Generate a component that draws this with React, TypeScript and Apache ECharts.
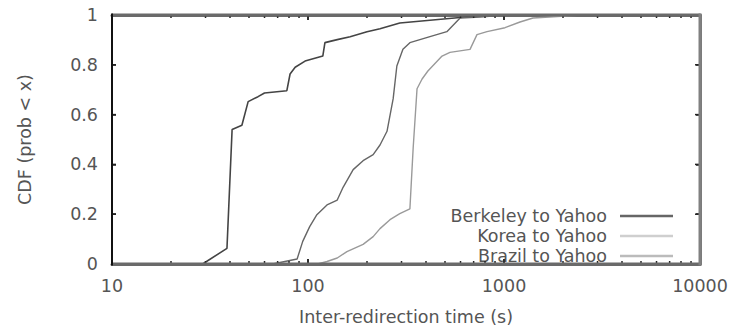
import React, { useEffect, useRef } from "react";
import * as echarts from "echarts";

const berkeleyX = [29, 38.6, 41, 46, 49.5, 55.6, 60, 78, 81, 86, 96.6, 119, 122, 141, 164, 200, 233, 294, 597, 800, 10000];
const berkeleyY = [0, 0.063, 0.54, 0.557, 0.652, 0.672, 0.687, 0.696, 0.763, 0.79, 0.815, 0.835, 0.889, 0.901, 0.913, 0.933, 0.945, 0.968, 0.99, 1, 1];

const koreaX = [66, 88, 94, 102, 111, 125, 141, 151, 170, 191, 215, 233, 253, 272, 284, 305, 331, 419, 511, 597, 755, 1000, 10000];
const koreaY = [0, 0.02, 0.091, 0.15, 0.198, 0.237, 0.257, 0.308, 0.379, 0.415, 0.439, 0.478, 0.533, 0.664, 0.795, 0.862, 0.889, 0.913, 0.933, 0.988, 0.992, 1, 1];

const brazilX = [112, 125, 141, 158, 191, 215, 233, 262, 294, 331, 344, 360, 382, 409, 483, 530, 671, 728, 819, 1012, 1207, 1406, 2500, 10000];
const brazilY = [0, 0.01, 0.024, 0.05, 0.079, 0.11, 0.142, 0.178, 0.202, 0.221, 0.466, 0.704, 0.743, 0.775, 0.835, 0.85, 0.862, 0.921, 0.933, 0.949, 0.972, 0.988, 1, 1];

const seriesNames = ["Berkeley to Yahoo", "Korea to Yahoo", "Brazil to Yahoo"];
const legendColors = ["#666", "#cfcfcf", "#bbb"];
const majorXTicks = [10, 100, 1000, 10000];
const minorXTicks = [20, 30, 40, 50, 60, 70, 80, 90, 200, 300, 400, 500, 600, 700, 800, 900, 2000, 3000, 4000, 5000, 6000, 7000, 8000, 9000];
const yTicks = [0.2, 0.4, 0.6, 0.8];

const zip = (xs: number[], ys: number[]) => xs.map((x, i) => [x, ys[i]]);

const FONT = "DejaVu Sans";
const TEXT = "#555";
const FS = 17.5;

// kind: 0 = minor x tick, 1 = major x tick, 2 = y tick, 3 = frame
const frameData = [
  ...minorXTicks.map((v) => [v, 0, 0]),
  ...majorXTicks.map((v) => [v, 0, 1]),
  ...yTicks.map((v) => [10, v, 2]),
  [10, 0, 3],
];

export default function App() {
  const ref = useRef<HTMLDivElement>(null);
  useEffect(() => {
    if (!ref.current) return;
    const chart = echarts.init(ref.current, null, { renderer: "svg" });
    const tick = { show: true, inside: true, length: 5, lineStyle: { color: "#222", width: 1.5 } };
    chart.setOption({
      animation: false,
      backgroundColor: "#fff",
      grid: { left: 112, right: 36, top: 15, bottom: 63 },
      xAxis: [
        {
          type: "log",
          min: 10,
          max: 10000,
          position: "bottom",
          splitLine: { show: false },
          name: "Inter-redirection time (s)",
          nameLocation: "middle",
          nameGap: 44,
          nameTextStyle: { color: TEXT, fontSize: FS, fontFamily: FONT },
          axisLine: { show: true, onZero: false, lineStyle: { color: "#6a6a6a", width: 3 } },
          axisTick: { ...tick },
          axisLabel: {
            color: TEXT,
            fontSize: FS,
            fontFamily: FONT,
            margin: 13,
            formatter: (v: number) => String(Math.round(v)),
          },
        },
        {
          type: "log",
          min: 10,
          max: 10000,
          position: "top",
          splitLine: { show: false },
          axisLine: { show: true, onZero: false, lineStyle: { color: "#6a6a6a", width: 3 } },
          axisTick: { ...tick },
          axisLabel: { show: false },
        },
      ],
      yAxis: [
        {
          type: "value",
          min: 0,
          max: 1,
          interval: 0.2,
          position: "left",
          splitLine: { show: false },
          name: "CDF (prob < x)",
          nameLocation: "middle",
          nameGap: 78,
          nameRotate: 90,
          nameTextStyle: { color: TEXT, fontSize: FS, fontFamily: FONT },
          axisLine: { show: true, onZero: false, lineStyle: { color: "#111", width: 2 } },
          axisTick: { ...tick, length: 4 },
          axisLabel: { color: TEXT, fontSize: FS, fontFamily: FONT, margin: 14 },
        },
        {
          type: "value",
          min: 0,
          max: 1,
          interval: 0.2,
          position: "right",
          splitLine: { show: false },
          axisLine: { show: true, onZero: false, lineStyle: { color: "#777", width: 3 } },
          axisTick: { ...tick, length: 4 },
          axisLabel: { show: false },
        },
      ],
      legend: {
        data: seriesNames.map((n, i) => ({ name: n, icon: "rect", itemStyle: { color: legendColors[i] } })),
        orient: "vertical",
        align: "right",
        right: 58,
        top: 202,
        itemWidth: 53,
        itemHeight: 2.5,
        itemGap: 2,
        textStyle: { color: TEXT, fontSize: FS, fontFamily: FONT, padding: [0, 8, 0, 0] },
      },
      series: [
        {
          name: seriesNames[0],
          type: "line",
          data: zip(berkeleyX, berkeleyY),
          symbol: "none",
          lineStyle: { color: "#444", width: 1.6 },
          itemStyle: { color: legendColors[0] },
          z: 3,
        },
        {
          name: seriesNames[1],
          type: "line",
          data: zip(koreaX, koreaY),
          symbol: "none",
          lineStyle: { color: "#666", width: 1.4 },
          itemStyle: { color: legendColors[1] },
          z: 3,
        },
        {
          name: seriesNames[2],
          type: "line",
          data: zip(brazilX, brazilY),
          symbol: "none",
          lineStyle: { color: "#9a9a9a", width: 1.4 },
          itemStyle: { color: legendColors[2] },
          z: 3,
        },
        {
          name: "frame",
          type: "custom",
          data: frameData,
          silent: true,
          z: 5,
          renderItem: (_params: any, api: any) => {
            const kind = api.value(2);
            const style = { stroke: "#222", lineWidth: 1.5 };
            if (kind === 3) {
              const bl = api.coord([10, 0]);
              const tr = api.coord([10000, 1]);
              return {
                type: "group",
                children: [
                  { type: "line", shape: { x1: bl[0], y1: bl[1], x2: tr[0], y2: bl[1] }, style: { stroke: "#6a6a6a", lineWidth: 3 } },
                  { type: "line", shape: { x1: bl[0], y1: tr[1], x2: tr[0], y2: tr[1] }, style: { stroke: "#6a6a6a", lineWidth: 3 } },
                  { type: "line", shape: { x1: tr[0], y1: bl[1] + 1.5, x2: tr[0], y2: tr[1] - 1.5 }, style: { stroke: "#808080", lineWidth: 3 } },
                  { type: "line", shape: { x1: bl[0], y1: bl[1] + 1.5, x2: bl[0], y2: tr[1] - 1.5 }, style: { stroke: "#111", lineWidth: 2 } },
                ],
              };
            }
            if (kind === 2) {
              const l = api.coord([10, api.value(1)]);
              const r = api.coord([10000, api.value(1)]);
              return {
                type: "group",
                children: [
                  { type: "line", shape: { x1: l[0], y1: l[1], x2: l[0] + 4, y2: l[1] }, style },
                  { type: "line", shape: { x1: r[0], y1: r[1], x2: r[0] - 5, y2: r[1] }, style },
                ],
              };
            }
            const x = api.value(0);
            const len = kind === 1 ? 5 : 3;
            const b = api.coord([x, 0]);
            const t = api.coord([x, 1]);
            return {
              type: "group",
              children: [
                { type: "line", shape: { x1: b[0], y1: b[1], x2: b[0], y2: b[1] - len }, style },
                { type: "line", shape: { x1: t[0], y1: t[1], x2: t[0], y2: t[1] + len }, style },
              ],
            };
          },
        },
      ],
    });
    return () => chart.dispose();
  }, []);
  return <div ref={ref} style={{ width: 736, height: 331, position: "absolute", left: 0, top: 0 }} />;
}
